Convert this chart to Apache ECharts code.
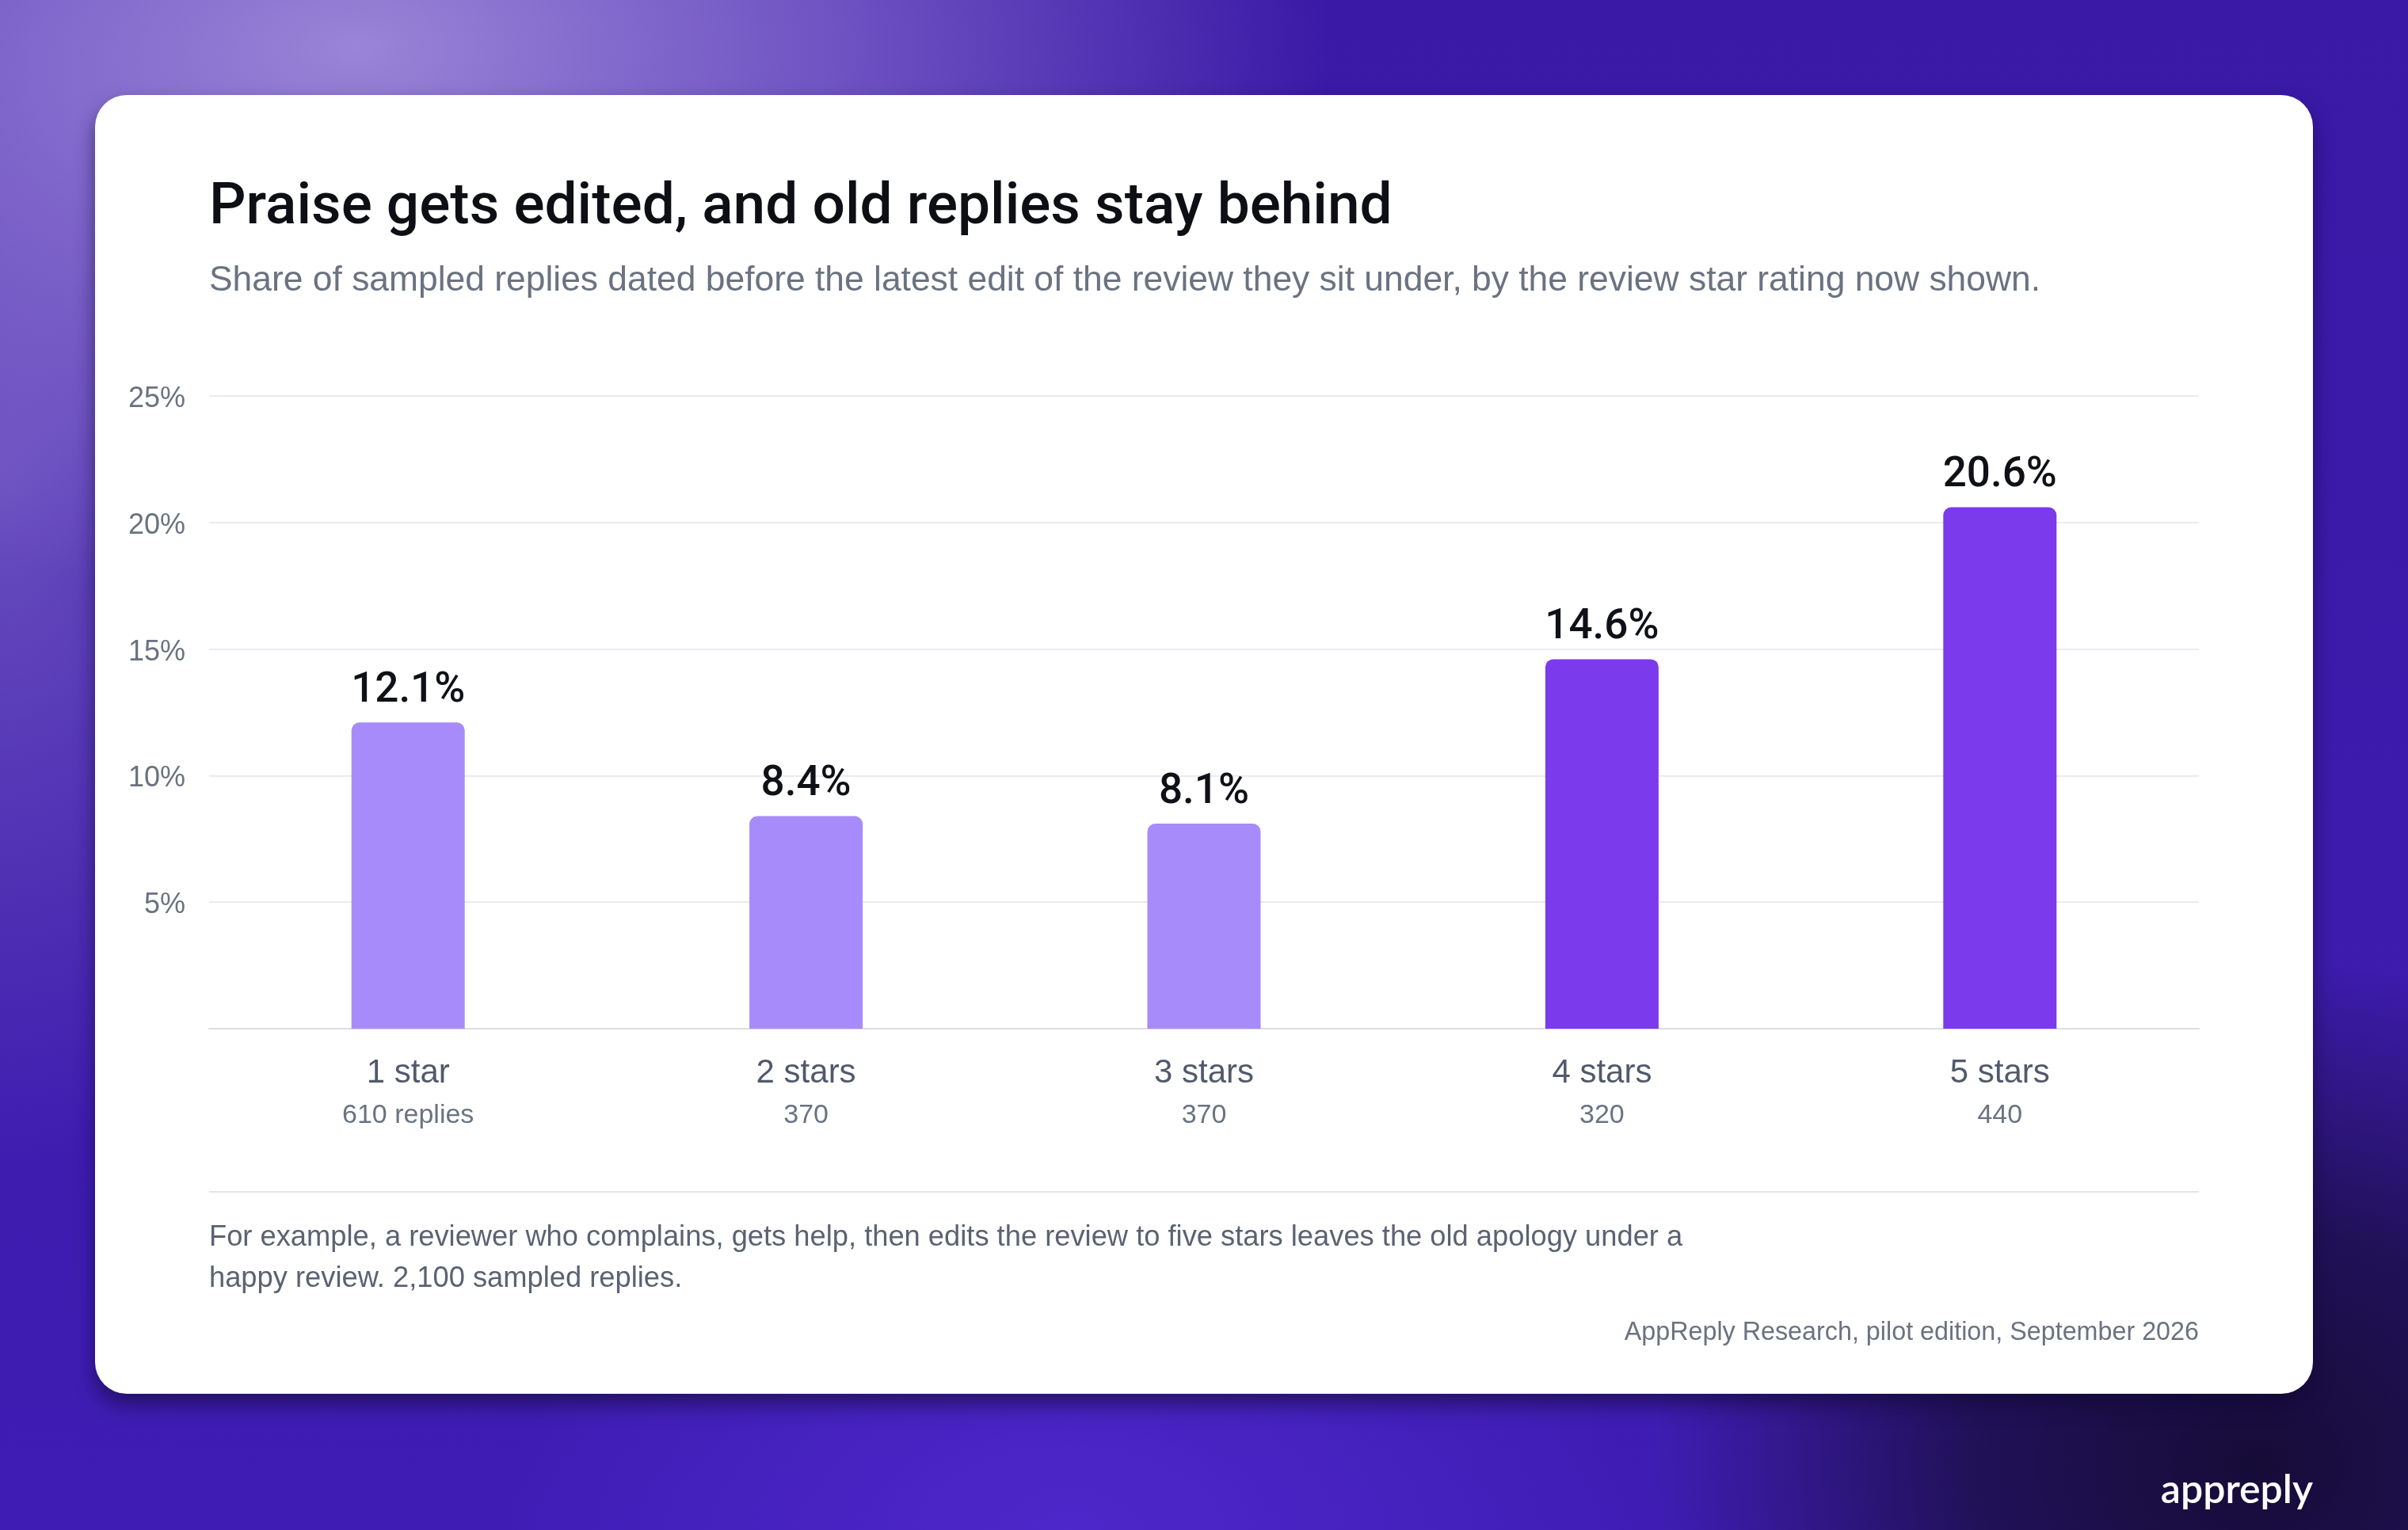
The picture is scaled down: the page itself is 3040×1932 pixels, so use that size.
<!DOCTYPE html>
<html>
<head>
<meta charset="utf-8">
<script src="https://cdn.jsdelivr.net/npm/echarts@6/dist/echarts.min.js"></script>
<style>
  html, body { margin:0; padding:0; width:3040px; height:1932px; overflow:hidden; }
  body {
    background:
      radial-gradient(ellipse 1500px 850px at 450px 60px, rgba(158,138,218,0.95) 0%, rgba(140,115,210,0.65) 40%, rgba(100,70,190,0.0) 82%),
      radial-gradient(ellipse 650px 1100px at 0px 600px, rgba(125,100,200,0.7) 0%, rgba(120,95,200,0) 80%),
      radial-gradient(ellipse 900px 500px at 1350px 1932px, rgba(80,40,205,0.9) 0%, rgba(80,40,205,0) 80%),
      radial-gradient(ellipse 900px 750px at 2850px 1850px, rgba(22,12,55,1) 0%, rgba(25,14,65,0.8) 40%, rgba(30,15,80,0) 85%),
      linear-gradient(180deg, #3a19a6 0%, #3d1bac 60%, #3f1db5 100%);
  }
  #card {
    position:absolute; left:120px; top:120px; width:2800px; height:1640px;
    background:#ffffff; border-radius:40px;
    box-shadow: 0 14px 24px rgba(15,8,50,0.55);
  }
  #chart { position:absolute; left:0; top:0; width:3040px; height:1932px; }
</style>
</head>
<body>
<div id="card"></div>
<div id="chart"></div>
<script>
const categories = ['1 star', '2 stars', '3 stars', '4 stars', '5 stars'];
const replyCounts = ['610 replies', '370', '370', '320', '440'];
const shares = [12.1, 8.4, 8.1, 14.6, 20.6];
const highlighted = [false, false, false, true, true];
const yTicks = [0, 5, 10, 15, 20, 25];

const titleText = 'Praise gets edited, and old replies stay behind';
const subtitleText = 'Share of sampled replies dated before the latest edit of the review they sit under, by the review star rating now shown.';
const noteText = 'For example, a reviewer who complains, gets help, then edits the review to five stars leaves the old apology under a\nhappy review. 2,100 sampled replies.';
const sourceText = 'AppReply Research, pilot edition, September 2026';
const brandText = 'appreply';

const FONT = '"Liberation Sans", Arial, Helvetica, sans-serif';
const MED = 'Roboto, "Liberation Sans", Arial, sans-serif';
const LIGHT = '#a78bfa', DARK = '#7c3aed';

const chart = echarts.init(document.getElementById('chart'), null, { renderer: 'canvas' });

const barData = shares.map((v, i) => ({
  value: v,
  itemStyle: { color: highlighted[i] ? DARK : LIGHT }
}));

chart.setOption({
  backgroundColor: 'transparent',
  animation: false,
  textStyle: { fontFamily: FONT },
  grid: { left: 264, right: 264, top: 500, bottom: 633, containLabel: false },
  xAxis: {
    type: 'category',
    data: categories,
    axisLine: { show: true, lineStyle: { color: '#dcdde3', width: 2 } },
    axisTick: { show: false },
    axisLabel: {
      margin: 27,
      interval: 0,
      formatter: (val, idx) => '{a|' + val + '}\n{b|' + replyCounts[idx] + '}',
      rich: {
        a: { fontFamily: FONT, fontSize: 42, color: '#515a6b', lineHeight: 58 },
        b: { fontFamily: FONT, fontSize: 34, color: '#6b7280', lineHeight: 50 }
      }
    }
  },
  yAxis: {
    type: 'value',
    min: yTicks[0],
    max: yTicks[yTicks.length - 1],
    interval: 5,
    axisLine: { show: false },
    axisTick: { show: false },
    splitLine: { show: true, lineStyle: { color: '#ebebf0', width: 2 } },
    axisLabel: {
      margin: 30,
      color: '#6b7280',
      formatter: v => (v === 0 ? '' : '{t|' + v + '%}'),
      rich: {
        t: { fontFamily: FONT, fontSize: 36, color: '#6b7280', padding: [8, 0, 0, 0] }
      }
    }
  },
  series: [{
    type: 'bar',
    data: barData,
    barWidth: 143,
    itemStyle: { borderRadius: [10, 10, 0, 0] },
    label: {
      show: true,
      position: 'top',
      distance: 13,
      fontFamily: MED,
      fontSize: 53,
      fontWeight: 500,
      color: '#0f1117',
      formatter: p => p.value.toFixed(1) + '%'
    }
  }],
  graphic: [
    { type: 'text', left: 264, top: 227, style: { text: titleText, font: '500 73px ' + MED, fill: '#0d0f14' } },
    { type: 'text', left: 264, top: 333, style: { text: subtitleText, font: '44.4px ' + FONT, fill: '#6b7280' } },
    { type: 'line', shape: { x1: 264, y1: 1505, x2: 2776, y2: 1505 }, style: { stroke: '#e5e6ea', lineWidth: 2 } },
    { type: 'text', left: 264, top: 1537, style: { text: noteText, font: '36.3px ' + FONT, fill: '#5b6272', lineHeight: 52 } },
    { type: 'text', right: 264, top: 1667, style: { text: sourceText, font: '32.3px ' + FONT, fill: '#6b7280', textAlign: 'right' } },
    { type: 'text', right: 120, top: 1857, style: { text: brandText, font: '600 50px Lato, "Open Sans", sans-serif', fill: '#ffffff' } }
  ]
});
</script>
</body>
</html>
